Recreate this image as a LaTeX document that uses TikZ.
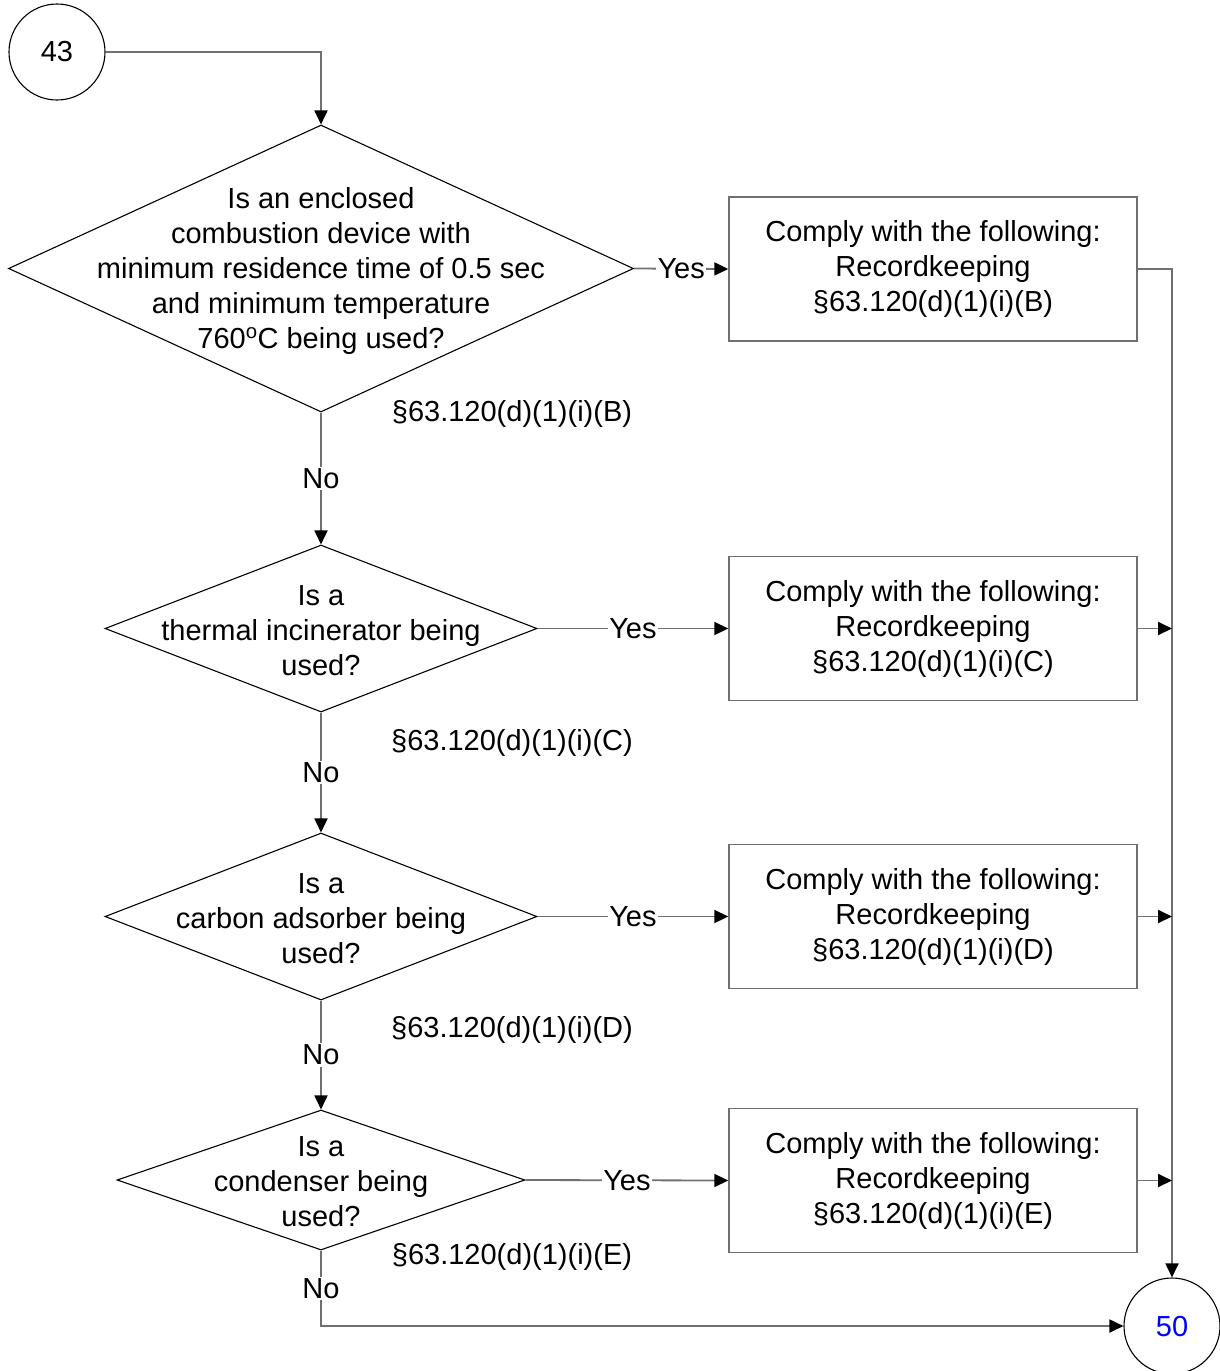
\documentclass[tikz,border=0pt]{standalone}
\usepackage{fontspec}
\setmainfont{Liberation Sans}
\usetikzlibrary{shapes.geometric,arrows.meta}
\definecolor{lnk}{RGB}{112,112,112}
\definecolor{numblue}{RGB}{0,0,255}
\begin{document}
\begin{tikzpicture}[x=1pt,y=-1pt,
  every node/.style={font=\fontsize{29}{35}\selectfont},
  dia/.style={draw=black,line width=1.1pt,shape=diamond,inner sep=0pt},
  actbox/.style={draw=lnk,line width=1.4pt,minimum width=408pt,minimum height=144pt,align=center,inner sep=0pt},
  conn/.style={draw=lnk,line width=1.8pt},
  arr/.style={conn,-{Triangle[length=14pt,width=13pt,color=black,fill=black]}},
  ref/.style={font=\fontsize{29}{35}\selectfont,inner sep=0pt},
  lbl/.style={fill=white,inner sep=1.5pt},
  circ/.style={draw=black,line width=1.1pt,circle,minimum size=96pt,inner sep=0pt}]
\useasboundingbox (0,0) rectangle (1219,1371);
\node[circ] (c43) at (57,52) {43};
\node[circ,text=numblue] (c50) at (1172,1326) {50};

\node[dia,minimum width=625pt,minimum height=287pt,
  label={[align=center,yshift=-2pt]center:{Is an enclosed\\combustion device with\\minimum residence time of 0.5 sec\\and minimum temperature\\760\textsuperscript{o}C being used?}}] (d1) at (321,268.5) {};
\node[dia,minimum width=432pt,minimum height=167pt,
  label={[align=center,yshift=-2pt]center:{Is a\\thermal incinerator being\\used?}}] (d2) at (321,628.5) {};
\node[dia,minimum width=432pt,minimum height=167pt,
  label={[align=center,yshift=-2pt]center:{Is a\\carbon adsorber being\\used?}}] (d3) at (321,916.5) {};
\node[dia,minimum width=408pt,minimum height=140pt,
  label={[align=center,yshift=-2pt]center:{Is a\\condenser being\\used?}}] (d4) at (321,1180) {};

\node[actbox] (b1) at (933,269) {Comply with the following:\\Recordkeeping\\§63.120(d)(1)(i)(B)};
\node[actbox] (b2) at (933,628.5) {Comply with the following:\\Recordkeeping\\§63.120(d)(1)(i)(C)};
\node[actbox] (b3) at (933,916.5) {Comply with the following:\\Recordkeeping\\§63.120(d)(1)(i)(D)};
\node[actbox] (b4) at (933,1180.5) {Comply with the following:\\Recordkeeping\\§63.120(d)(1)(i)(E)};

\node[ref] (r1) at (512,414) {§63.120(d)(1)(i)(B)};
\node[ref] (r2) at (512,743) {§63.120(d)(1)(i)(C)};
\node[ref] (r3) at (512,1030) {§63.120(d)(1)(i)(D)};
\node[ref] (r4) at (512,1257) {§63.120(d)(1)(i)(E)};

\draw[arr] (c43.east) -| (d1.north);
\draw[arr] (d1.east) -- node[lbl]{Yes} (b1.west);
\draw[arr] (d2.east) -- node[lbl]{Yes} (b2.west);
\draw[arr] (d3.east) -- node[lbl]{Yes} (b3.west);
\draw[arr] (d4.east) -- node[lbl]{Yes} (b4.west);
\draw[arr] (d1.south) -- node[lbl]{No} (d2.north);
\draw[arr] (d2.south) -- node[lbl]{No} (d3.north);
\draw[arr] (d3.south) -- node[lbl]{No} (d4.north);
\coordinate (corner) at (d4.south |- c50.west);
\draw[arr] (d4.south) -- node[lbl]{No} (corner) -- (c50.west);
\draw[arr] (b1.east) -| (c50.north);
\draw[arr] (b2.east) -- (b2.east -| c50.north);
\draw[arr] (b3.east) -- (b3.east -| c50.north);
\draw[arr] (b4.east) -- (b4.east -| c50.north);
\end{tikzpicture}
\end{document}
